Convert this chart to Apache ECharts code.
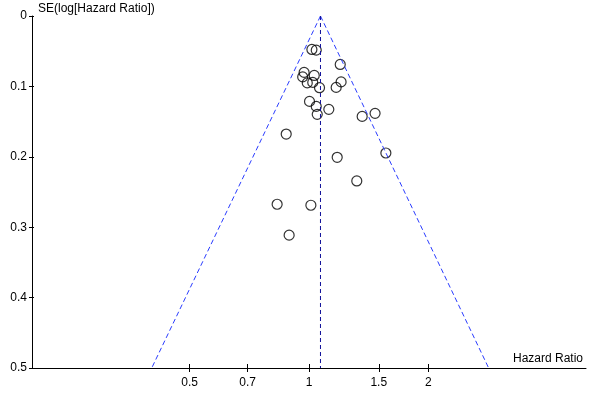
<!DOCTYPE html>
<html>
<head>
<meta charset="utf-8">
<script src="https://cdn.jsdelivr.net/npm/echarts@6/dist/echarts.min.js"></script>
<style>html,body{margin:0;padding:0;background:#fff}#c{width:600px;height:400px}</style>
</head>
<body>
<div id="c"></div>
<script>
// Study estimates: hazard ratio and SE(log HR)
var hazardRatios = [1.017, 1.043, 1.199, 0.972, 0.964, 1.031, 0.990, 1.022, 1.063, 1.205, 1.171, 1.003, 1.043, 1.122, 1.049, 1.362, 1.468, 0.876, 1.178, 1.563, 1.320, 0.831, 1.011, 0.891];
var seLogHR     = [0.0475, 0.0485, 0.0688, 0.0801, 0.0865, 0.0844, 0.0950, 0.0943, 0.1018, 0.0936, 0.1014, 0.1213, 0.1284, 0.1326, 0.1397, 0.1426, 0.1383, 0.1677, 0.2007, 0.1946, 0.2343, 0.2674, 0.2688, 0.3113];
// Pooled estimate and funnel limits (HR at SE = 0 and SE = 0.5)
var pooledHR = 1.069;
var funnelLeftHR = [1.069, 0.401];
var funnelRightHR = [1.069, 2.84];
var funnelSE = [0, 0.5];
// Axis ticks
var xTickLabels = [0.5, 0.7, 1, 1.5, 2];
var xRange = [0.2, 5];
var yTicks = [0, 0.1, 0.2, 0.3, 0.4, 0.5];

var ln = Math.log;
var xTickVals = xTickLabels.map(ln);
function fmtX(v) {
  for (var i = 0; i < xTickVals.length; i++) {
    if (Math.abs(xTickVals[i] - v) < 1e-6) return String(xTickLabels[i]);
  }
  return '';
}
var pts = hazardRatios.map(function (h, i) { return [ln(h), seLogHR[i]]; });
var leftLine = funnelSE.map(function (s, i) { return [ln(funnelLeftHR[i]), s]; });
var rightLine = funnelSE.map(function (s, i) { return [ln(funnelRightHR[i]), s]; });
var midLine = funnelSE.map(function (s) { return [ln(pooledHR), s]; });

var font = 'Arial, "Liberation Sans", sans-serif';
var chart = echarts.init(document.getElementById('c'), null, { renderer: 'canvas' });
var xBase = {
  type: 'value', min: ln(xRange[0]), max: ln(xRange[1]), position: 'bottom',
  splitLine: { show: false }
};
chart.setOption({
  animation: false,
  backgroundColor: '#fff',
  grid: { left: 32, right: 14, top: 16, bottom: 32, containLabel: false },
  xAxis: [
    Object.assign({}, xBase, {
      name: 'Hazard Ratio', nameLocation: 'end', nameGap: 0,
      nameTextStyle: { color: '#000', fontFamily: font, fontSize: 12, align: 'right', verticalAlign: 'bottom', padding: [0, 3, 3, 0] },
      axisLine: { onZero: false, lineStyle: { color: '#000', width: 1 } },
      axisTick: { show: true, length: 4, customValues: xTickVals, lineStyle: { color: '#000' } },
      axisLabel: { customValues: xTickVals, formatter: fmtX, color: '#000', fontFamily: font, fontSize: 12, margin: 9 }
    }),
    Object.assign({}, xBase, {
      axisLine: { show: false, onZero: false },
      axisTick: { show: true, inside: true, length: 4, customValues: xTickVals, lineStyle: { color: '#000' } },
      axisLabel: { show: false }
    })
  ],
  yAxis: [
    {
      type: 'value', inverse: true, min: 0, max: 0.5, interval: 0.1, position: 'left',
      name: 'SE(log[Hazard Ratio])', nameLocation: 'start', nameGap: 7,
      nameTextStyle: { color: '#000', fontFamily: font, fontSize: 12, align: 'left', verticalAlign: 'middle', padding: [0, 0, 0, 6] },
      axisLine: { show: true, onZero: false, lineStyle: { color: '#000', width: 1 } },
      axisTick: { show: true, length: 3, lineStyle: { color: '#000' } },
      axisLabel: { color: '#000', fontFamily: font, fontSize: 12, margin: 5, formatter: function (v) { return String(Math.round(v * 10) / 10); } },
      splitLine: { show: false }
    },
    {
      type: 'value', inverse: true, min: 0, max: 0.5, interval: 0.1, position: 'left',
      axisLine: { show: false, onZero: false },
      axisTick: { show: true, inside: true, length: 2, lineStyle: { color: '#000' } },
      axisLabel: { show: false },
      splitLine: { show: false }
    }
  ],
  series: [
    {
      type: 'line', data: leftLine, symbol: 'none', silent: true,
      lineStyle: { color: '#2a3cff', width: 1, type: [5, 3] }
    },
    {
      type: 'line', data: rightLine, symbol: 'none', silent: true,
      lineStyle: { color: '#2a3cff', width: 1, type: [5, 3] }
    },
    {
      type: 'line', data: midLine, symbol: 'none', silent: true,
      lineStyle: { color: '#10109a', width: 1, type: [4, 3] }
    },
    {
      type: 'scatter', data: pts, symbol: 'circle', symbolSize: 10,
      itemStyle: { color: 'rgba(0,0,0,0)', borderColor: '#000', borderWidth: 1.2 }
    }
  ]
});
</script>
</body>
</html>
